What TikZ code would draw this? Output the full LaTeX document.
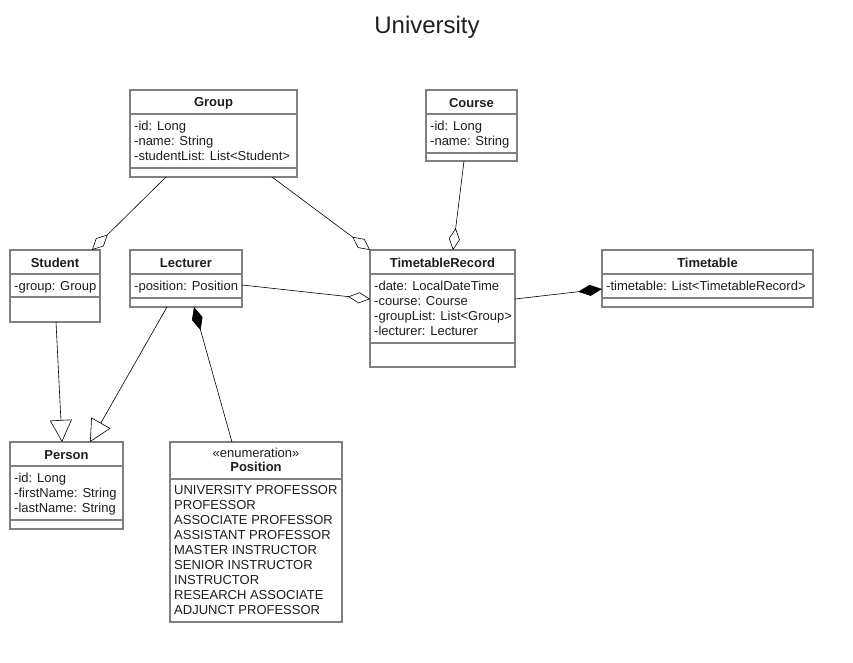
\documentclass[tikz,border=0pt]{standalone}
\usepackage{fontspec}
\setmainfont{Liberation Sans}
\usetikzlibrary{arrows.meta,calc}
\definecolor{boxgray}{RGB}{128,128,128}
\definecolor{inkgray}{RGB}{30,30,30}
\begin{document}
\begin{tikzpicture}[x=1pt,y=-1pt,
  classbox/.style={draw=boxgray, line width=1.4pt, anchor=north west, inner sep=0pt, outer sep=0pt, fill=white},
  compsep/.style={draw=boxgray, line width=1.4pt},
  cname/.style={font=\fontsize{13}{15}\selectfont\bfseries, inner sep=0pt, text=inkgray},
  attrs/.style={font=\fontsize{13}{15}\selectfont, align=left, anchor=north west, inner sep=0pt, text=inkgray},
  conn/.style={draw=black, line width=0.6pt},
  aggr/.style={conn, -{Diamond[open, length=22pt, width=11pt, line width=0.6pt]}},
  compo/.style={conn, -{Diamond[length=24pt, width=11pt]}},
  inherit/.style={conn, -{Triangle[open, length=22pt, width=22pt, line width=0.6pt]}}
]
\useasboundingbox (0,0) rectangle (853,662);

% title
\node[font=\fontsize{24}{28}\selectfont, inner sep=0pt, text=inkgray] (title) at (427,27) {University};

% Group
\node[classbox, minimum width=167pt, minimum height=87pt] (group) at (130,90) {};
\draw[compsep] ($(group.north west)+(0,24)$) -- ($(group.north east)+(0,24)$);
\draw[compsep] ($(group.south west)+(0,-9)$) -- ($(group.south east)+(0,-9)$);
\node[cname] at ($(group.north)+(0,13)$) {Group};
\node[attrs] at ($(group.north west)+(4,31)$) {-id: Long\\-name: String\\-studentList: List<Student>};

% Course
\node[classbox, minimum width=91pt, minimum height=71pt] (course) at (426,90) {};
\draw[compsep] ($(course.north west)+(0,24)$) -- ($(course.north east)+(0,24)$);
\draw[compsep] ($(course.south west)+(0,-8)$) -- ($(course.south east)+(0,-8)$);
\node[cname] at ($(course.north)+(0,13)$) {Course};
\node[attrs] at ($(course.north west)+(4,31)$) {-id: Long\\-name: String};

% Student
\node[classbox, minimum width=90pt, minimum height=72pt] (student) at (10,250) {};
\draw[compsep] ($(student.north west)+(0,24)$) -- ($(student.north east)+(0,24)$);
\draw[compsep] ($(student.north west)+(0,47)$) -- ($(student.north east)+(0,47)$);
\node[cname] at ($(student.north)+(0,13)$) {Student};
\node[attrs] at ($(student.north west)+(4,31)$) {-group: Group};

% Lecturer
\node[classbox, minimum width=112pt, minimum height=57pt] (lecturer) at (130,250) {};
\draw[compsep] ($(lecturer.north west)+(0,24)$) -- ($(lecturer.north east)+(0,24)$);
\draw[compsep] ($(lecturer.north west)+(0,48)$) -- ($(lecturer.north east)+(0,48)$);
\node[cname] at ($(lecturer.north)+(0,13)$) {Lecturer};
\node[attrs] at ($(lecturer.north west)+(4,31)$) {-position: Position};

% TimetableRecord
\node[classbox, minimum width=145pt, minimum height=117pt] (tr) at (370,250) {};
\draw[compsep] ($(tr.north west)+(0,24)$) -- ($(tr.north east)+(0,24)$);
\draw[compsep] ($(tr.north west)+(0,93)$) -- ($(tr.north east)+(0,93)$);
\node[cname] at ($(tr.north)+(0,13)$) {TimetableRecord};
\node[attrs] at ($(tr.north west)+(4,31)$) {-date: LocalDateTime\\-course: Course\\-groupList: List<Group>\\-lecturer: Lecturer};

% Timetable
\node[classbox, minimum width=211pt, minimum height=57pt] (timetable) at (602,250) {};
\draw[compsep] ($(timetable.north west)+(0,24)$) -- ($(timetable.north east)+(0,24)$);
\draw[compsep] ($(timetable.north west)+(0,48)$) -- ($(timetable.north east)+(0,48)$);
\node[cname] at ($(timetable.north)+(0,13)$) {Timetable};
\node[attrs] at ($(timetable.north west)+(4,31)$) {-timetable: List<TimetableRecord>};

% Person
\node[classbox, minimum width=113pt, minimum height=87pt] (person) at (10,442) {};
\draw[compsep] ($(person.north west)+(0,24)$) -- ($(person.north east)+(0,24)$);
\draw[compsep] ($(person.south west)+(0,-9)$) -- ($(person.south east)+(0,-9)$);
\node[cname] at ($(person.north)+(0,13)$) {Person};
\node[attrs] at ($(person.north west)+(4,31)$) {-id: Long\\-firstName: String\\-lastName: String};

% Position (enumeration)
\node[classbox, minimum width=172pt, minimum height=180pt] (position) at (170,442) {};
\draw[compsep] ($(position.north west)+(0,37)$) -- ($(position.north east)+(0,37)$);
\node[font=\fontsize{13}{15}\selectfont, inner sep=0pt, text=inkgray] at ($(position.north)+(0,11)$) {«enumeration»};
\node[cname] at ($(position.north)+(0,25)$) {Position};
\node[attrs] at ($(position.north west)+(4,43)$) {UNIVERSITY PROFESSOR\\PROFESSOR\\ASSOCIATE PROFESSOR\\ASSISTANT PROFESSOR\\MASTER INSTRUCTOR\\SENIOR INSTRUCTOR\\INSTRUCTOR\\RESEARCH ASSOCIATE\\ADJUNCT PROFESSOR};

% associations
\draw[aggr] ($(group.south west)+(36,0)$) -- ($(student.north east)+(-8,0)$);
\draw[aggr] ($(group.south west)+(142,0)$) -- (tr.north west);
\draw[aggr] ($(course.south west)+(38,0)$) -- ($(tr.north west)+(83,0)$);
\draw[aggr] ($(lecturer.north east)+(0,35)$) -- ($(tr.north west)+(0,49)$);
\draw[compo] ($(tr.north east)+(0,49)$) -- ($(timetable.north west)+(0,39)$);
\draw[compo] ($(position.north west)+(62,0)$) -- ($(lecturer.south west)+(64,0)$);

% generalisations
\draw[inherit] ($(student.south west)+(46,0)$) -- ($(person.north west)+(52,0)$);
\draw[inherit] ($(lecturer.south west)+(37,0)$) -- ($(person.north west)+(80,0)$);
\end{tikzpicture}
\end{document}
